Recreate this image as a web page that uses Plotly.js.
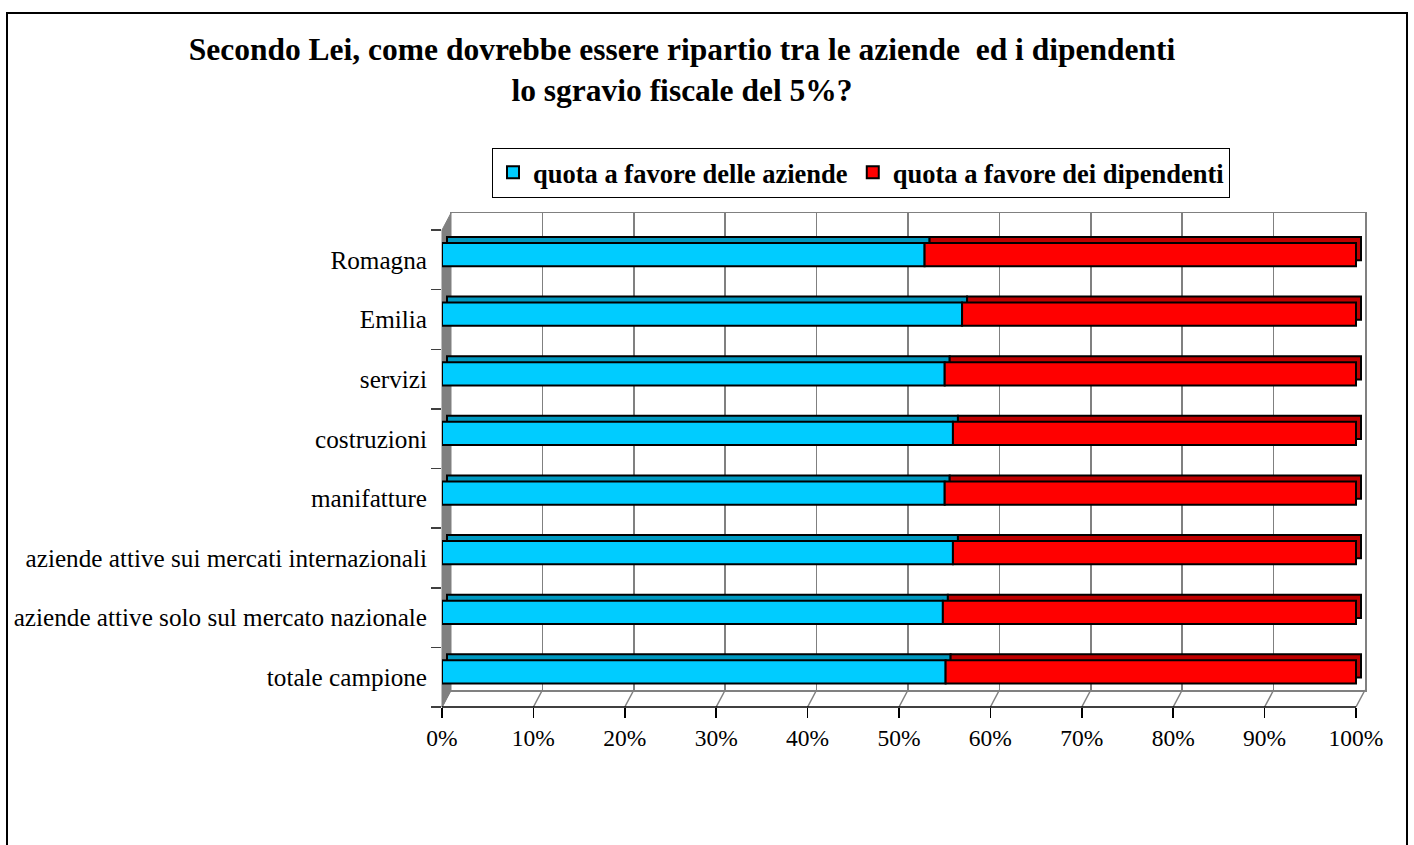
<!DOCTYPE html>
<html>
<head>
<meta charset="utf-8">
<script src="https://cdn.plot.ly/plotly-3.0.1.min.js"></script>
<style>html,body{margin:0;padding:0;background:#fff;}#chart{width:1414px;height:845px;}</style>
</head>
<body>
<div id="chart"></div>
<script>
// ---- data (bottom to top) ----
const categories = [
  "totale campione",
  "aziende attive solo sul mercato nazionale",
  "aziende attive sui mercati internazionali",
  "manifatture",
  "costruzioni",
  "servizi",
  "Emilia",
  "Romagna"
];
const quotaAziende    = [0.551, 0.548, 0.559, 0.550, 0.559, 0.550, 0.569, 0.528];
const quotaDipendenti = [0.449, 0.452, 0.441, 0.450, 0.441, 0.450, 0.431, 0.472];
const seriesNames = ["quota a favore delle aziende", "quota a favore dei dipendenti"];
const tickValues = [0, 0.1, 0.2, 0.3, 0.4, 0.5, 0.6, 0.7, 0.8, 0.9, 1.0];
const tickLabels = ["0%","10%","20%","30%","40%","50%","60%","70%","80%","90%","100%"];

// ---- geometry (pixels) ----
const W = 1414, H = 845;
const L = 442, R = 49, T = 213, B = 138;
const PW = W - L - R, PH = H - T - B;
const DX = 9, DY = 17;             // depth of 3D walls
const px2x = p => (p - L) / PW;
const py2y = p => (H - B - p) / PH;
const frontW = PW - DX, frontH = PH - DY;
const xFrontPx = v => L + v * frontW;
const yBottom = H - B;

const FONT = "Liberation Serif, Times New Roman, serif";
const blue = "#00CCFF", blueTop = "#0099C0";
const red = "#FF0000", redTop = "#C00000";

const barW = 0.39, barOff = -0.107, depthOff = 6 / (frontH / categories.length);
const dxVal = 5 / frontW;

const baseRed = quotaAziende.slice();
const shadowBlueBase = quotaAziende.map(() => dxVal);
const shadowRedBase = quotaAziende.map(v => v + dxVal);

const traces = [
  {type: "scatter", x: [null], y: [null], xaxis: "x", yaxis: "y", showlegend: false, hoverinfo: "skip"},
  {type: "bar", orientation: "h", y: categories, x: quotaAziende, base: shadowBlueBase,
   width: barW, offset: barOff + depthOff, xaxis: "x2", yaxis: "y2",
   marker: {color: blueTop, line: {color: "#000", width: 2}}, showlegend: false, hoverinfo: "skip"},
  {type: "bar", orientation: "h", y: categories, x: quotaDipendenti, base: shadowRedBase,
   width: barW, offset: barOff + depthOff, xaxis: "x2", yaxis: "y2",
   marker: {color: redTop, line: {color: "#000", width: 2}}, showlegend: false, hoverinfo: "skip"},
  {type: "bar", orientation: "h", name: seriesNames[0], y: categories, x: quotaAziende, base: 0,
   width: barW, offset: barOff, xaxis: "x2", yaxis: "y2",
   marker: {color: blue, line: {color: "#000", width: 2}}},
  {type: "bar", orientation: "h", name: seriesNames[1], y: categories, x: quotaDipendenti, base: baseRed,
   width: barW, offset: barOff, xaxis: "x2", yaxis: "y2",
   marker: {color: red, line: {color: "#000", width: 2}}}
];

// ---- decorative 3D walls ----
const shapes = [];
shapes.push({type: "rect", xref: "paper", yref: "paper",
  x0: px2x(7), x1: px2x(1407), y0: py2y(870), y1: py2y(13),
  line: {color: "#000", width: 2}, fillcolor: "rgba(0,0,0,0)", layer: "below"});
shapes.push({type: "path", xref: "paper", yref: "paper", layer: "below",
  path: `M ${px2x(L)} ${py2y(T + DY)} L ${px2x(L + DX)} ${py2y(T)} L ${px2x(L + DX)} ${py2y(yBottom - DY)} L ${px2x(L)} ${py2y(yBottom)} Z`,
  fillcolor: "#808080", line: {color: "#808080", width: 1}});
tickValues.forEach(v => {
  const xf = xFrontPx(v);
  shapes.push({type: "line", xref: "paper", yref: "paper", layer: "below",
    x0: px2x(xf), y0: py2y(yBottom), x1: px2x(xf + DX), y1: py2y(yBottom - DY),
    line: {color: "#808080", width: 1.5}});
});
shapes.push({type: "line", xref: "paper", yref: "paper", layer: "below",
  x0: px2x(xFrontPx(0)), x1: px2x(xFrontPx(1)), y0: 0, y1: 0,
  line: {color: "#000", width: 1.5}});

const layout = {
  width: W, height: H,
  margin: {l: L, r: R, t: T, b: B, pad: 0},
  paper_bgcolor: "#fff", plot_bgcolor: "rgba(0,0,0,0)",
  font: {family: FONT, color: "#000", size: 22},
  barmode: "overlay",
  title: {
    text: "Secondo Lei, come dovrebbe essere ripartio tra le aziende \u00a0ed i dipendenti<br>lo sgravio fiscale del 5%?",
    font: {family: FONT, size: 31.5, weight: "bold", color: "#000"},
    x: 682 / W, xanchor: "center", xref: "container",
    y: 1 - 60 / H, yanchor: "top", yref: "container"
  },
  showlegend: true,
  legend: {
    orientation: "h", x: (861 - L) / PW, xanchor: "center", y: py2y(172.5), yanchor: "middle",
    bordercolor: "#000", borderwidth: 1, bgcolor: "#fff",
    font: {family: FONT, size: 26.5, weight: "bold", color: "#000"},
    traceorder: "normal"
  },
  xaxis: {domain: [DX / PW, 1], range: [0, 1], anchor: "y",
    showgrid: true, gridcolor: "#808080", gridwidth: 1.5,
    tickvals: tickValues, showticklabels: false, ticks: "",
    showline: true, mirror: true, linecolor: "#808080", linewidth: 1.5, zeroline: false, fixedrange: true},
  yaxis: {domain: [DY / PH, 1], range: [0, 1], anchor: "x",
    showgrid: false, showticklabels: false, ticks: "",
    showline: true, mirror: true, linecolor: "#808080", linewidth: 1.5, zeroline: false, fixedrange: true},
  xaxis2: {domain: [0, 1], range: [0, PW / frontW], anchor: "y2",
    tickvals: tickValues, ticktext: tickLabels, ticks: "outside", ticklen: 10, tickwidth: 1.5, tickcolor: "#000",
    showgrid: false, zeroline: false, showline: false,
    tickfont: {family: FONT, size: 23.5, color: "#000"}, ticklabelstandoff: 0, fixedrange: true},
  yaxis2: {domain: [0, frontH / PH], type: "category", categoryorder: "array", categoryarray: categories,
    range: [-0.5, categories.length - 0.5], anchor: "x2",
    ticks: "outside", tickson: "boundaries", ticklen: 10, tickwidth: 1.5, tickcolor: "#404040",
    showgrid: false, showline: false, zeroline: false,
    tickfont: {family: FONT, size: 25.2, color: "#000"}, ticklabelstandoff: 14, fixedrange: true},
  shapes: shapes
};

Plotly.newPlot("chart", traces, layout, {displayModeBar: false, staticPlot: true});
</script>
</body>
</html>
